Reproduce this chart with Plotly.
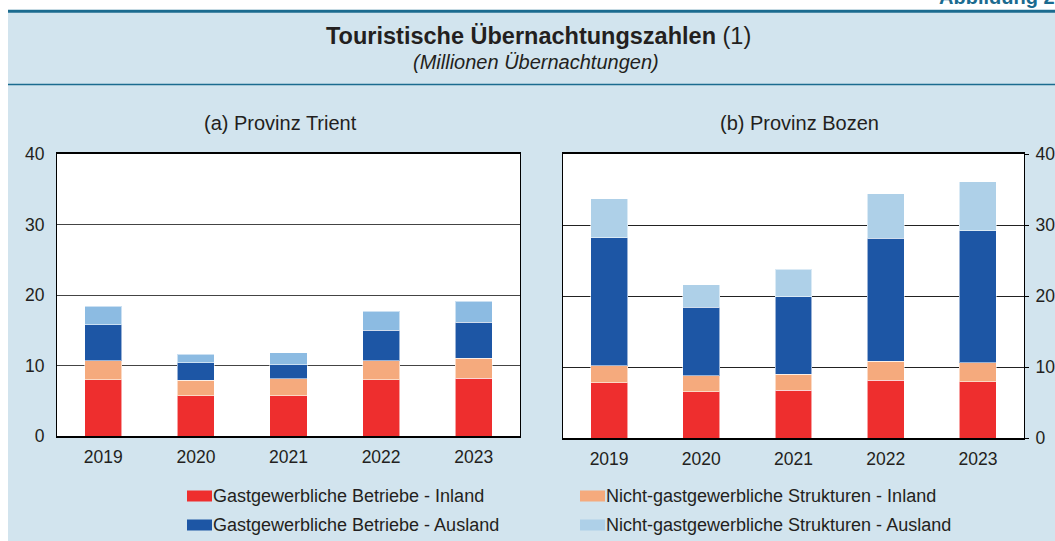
import plotly.graph_objects as go

W, H = 1055, 541

years = ["2019", "2020", "2021", "2022", "2023"]

series_names = [
    "Gastgewerbliche Betriebe - Inland",
    "Nicht-gastgewerbliche Strukturen - Inland",
    "Gastgewerbliche Betriebe - Ausland",
    "Nicht-gastgewerbliche Strukturen - Ausland",
]

# (a) Provinz Trient
trient_gast_inland = [8.0, 5.7, 5.7, 8.0, 8.2]
trient_nicht_inland = [2.7, 2.2, 2.4, 2.7, 2.8]
trient_gast_ausland = [5.1, 2.5, 2.0, 4.3, 5.1]
trient_nicht_ausland = [2.6, 1.2, 1.7, 2.7, 3.0]

# (b) Provinz Bozen
bozen_gast_inland = [7.8, 6.5, 6.7, 8.1, 7.9]
bozen_nicht_inland = [2.4, 2.3, 2.3, 2.7, 2.7]
bozen_gast_ausland = [18.0, 9.6, 10.9, 17.3, 18.6]
bozen_nicht_ausland = [5.5, 3.2, 3.9, 6.3, 6.9]

y_ticks = [0, 10, 20, 30, 40]

colors_left = ["#EE2E2E", "#F5AA7D", "#1D56A5", "#8CBBE2"]
colors_right = ["#EE2E2E", "#F5AA7D", "#1D56A5", "#AED0E8"]
legend_colors = ["#EE2E2E", "#F5AA7D", "#1D56A5", "#AED0E8"]

BG = "#D2E4EE"
TEAL = "#1B6B8F"
TXT = "#231F20"
FONT = "Liberation Sans, Arial, sans-serif"


def xp(px):
    return px / W


def yp(py):
    return 1 - py / H


fig = go.Figure()

trient = [trient_gast_inland, trient_nicht_inland, trient_gast_ausland, trient_nicht_ausland]
bozen = [bozen_gast_inland, bozen_nicht_inland, bozen_gast_ausland, bozen_nicht_ausland]

for name, vals, col in zip(series_names, trient, colors_left):
    fig.add_trace(go.Bar(x=years, y=vals, name=name, marker_color=col,
                         marker_line=dict(width=1, color="rgba(255,255,255,0.55)"),
                         xaxis="x", yaxis="y", showlegend=False))
for name, vals, col in zip(series_names, bozen, colors_right):
    fig.add_trace(go.Bar(x=years, y=vals, name=name, marker_color=col,
                         marker_line=dict(width=1, color="rgba(255,255,255,0.55)"),
                         xaxis="x2", yaxis="y2", showlegend=False))

axis_common = dict(showline=True, mirror=True, linecolor="black",
                   tickfont=dict(family=FONT, size=17.5, color=TXT))

fig.update_layout(
    width=W, height=H,
    margin=dict(l=0, r=0, t=0, b=0, autoexpand=False),
    paper_bgcolor=BG,
    plot_bgcolor="white",
    barmode="stack",
    bargap=0.6,
    font=dict(family=FONT, color=TXT),
    xaxis=dict(domain=[xp(57), xp(520)], anchor="y", linewidth=1.5,
               showgrid=False, ticks="", ticklabelstandoff=4, **axis_common),
    yaxis=dict(domain=[yp(436), yp(154)], anchor="x", range=[0, 40],
               tickvals=y_ticks, linewidth=1, showgrid=True,
               gridcolor="#444444", gridwidth=1, ticks="",
               ticklabelstandoff=8, zeroline=False, **axis_common),
    xaxis2=dict(domain=[xp(563), xp(1024)], anchor="y2", linewidth=1.5,
                showgrid=False, ticks="", ticklabelstandoff=4, **axis_common),
    yaxis2=dict(domain=[yp(438), yp(154)], anchor="x2", range=[0, 40],
                tickvals=y_ticks, side="right", linewidth=1, showgrid=True,
                gridcolor="#222222", gridwidth=1, ticks="outside", ticklen=4,
                tickcolor="black", ticklabelstandoff=3, zeroline=False,
                **axis_common),
)

shapes = [
    # white strips at top and left
    dict(type="rect", xref="paper", yref="paper", x0=0, x1=1, y0=yp(10), y1=1,
         fillcolor="white", line_width=0, layer="below"),
    dict(type="rect", xref="paper", yref="paper", x0=0, x1=xp(8), y0=0, y1=1,
         fillcolor="white", line_width=0, layer="below"),
    # teal rules
    dict(type="line", xref="paper", yref="paper", x0=xp(8), x1=1, y0=yp(11.3), y1=yp(11.3),
         line=dict(color=TEAL, width=3)),
    dict(type="line", xref="paper", yref="paper", x0=xp(8), x1=1, y0=yp(84.5), y1=yp(84.5),
         line=dict(color=TEAL, width=1.5)),
]

annotations = [
    dict(text="<b>Abbildung 2.</b>", xref="paper", yref="paper", x=xp(1062), y=yp(10),
         xanchor="right", yanchor="bottom", showarrow=False,
         font=dict(family=FONT, size=20, color=TEAL)),
    dict(text="<b>Touristische Übernachtungszahlen</b> (1)", xref="paper", yref="paper",
         x=xp(538), y=yp(36), xanchor="center", yanchor="middle", showarrow=False,
         font=dict(family=FONT, size=23.5, color=TXT)),
    dict(text="<i>(Millionen Übernachtungen)</i>", xref="paper", yref="paper",
         x=xp(536), y=yp(62), xanchor="center", yanchor="middle", showarrow=False,
         font=dict(family=FONT, size=20, color=TXT)),
    dict(text="(a) Provinz Trient", xref="paper", yref="paper",
         x=xp(280), y=yp(123), xanchor="center", yanchor="middle", showarrow=False,
         font=dict(family=FONT, size=20, color=TXT)),
    dict(text="(b) Provinz Bozen", xref="paper", yref="paper",
         x=xp(799), y=yp(123), xanchor="center", yanchor="middle", showarrow=False,
         font=dict(family=FONT, size=20, color=TXT)),
]

# manual legend (two columns)
legend_pos = [(187, 496), (580, 496), (187, 525), (580, 525)]
for name, col, (lx, ly) in zip(series_names, legend_colors, legend_pos):
    shapes.append(dict(type="rect", xref="paper", yref="paper",
                       x0=xp(lx), x1=xp(lx + 25), y0=yp(ly + 5.5), y1=yp(ly - 5.5),
                       fillcolor=col, line_width=0))
    annotations.append(dict(text=name, xref="paper", yref="paper",
                            x=xp(lx + 25), y=yp(ly), xanchor="left", yanchor="middle",
                            showarrow=False, xshift=-1,
                            font=dict(family=FONT, size=18, color=TXT)))

fig.update_layout(shapes=shapes, annotations=annotations)

fig.write_html(
    "out.html",
    config={"displayModeBar": False},
    post_script="document.body.style.margin='0';document.body.style.overflow='hidden';"
                "document.documentElement.style.overflow='hidden';",
)
